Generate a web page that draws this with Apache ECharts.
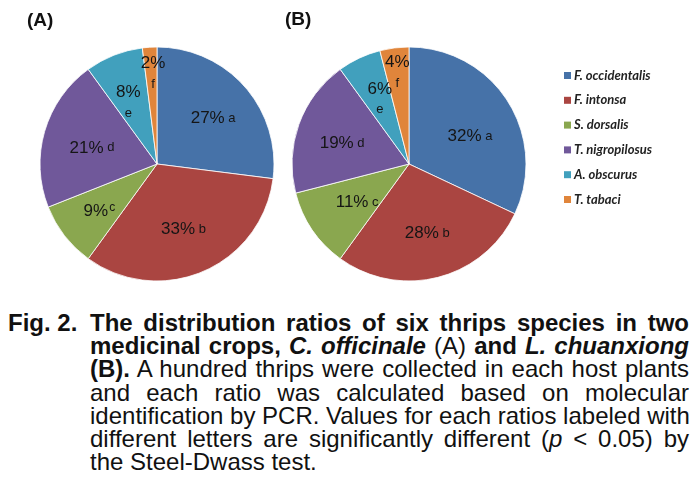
<!DOCTYPE html>
<html>
<head>
<meta charset="utf-8">
<script src="https://cdn.jsdelivr.net/npm/echarts@6/dist/echarts.min.js"></script>
<style>
  html, body { margin: 0; padding: 0; background: #fff; }
  #pieChart { position: absolute; left: 0; top: 0; width: 697px; height: 300px; }
  #caption {
    position: absolute; left: 8px; top: 311px; width: 681px;
    font-family: "Liberation Sans", Arial, sans-serif;
    font-size: 24px; line-height: 23.2px; color: #111;
  }
  #caption .ln { text-align: justify; text-align-last: justify; padding-left: 82px; white-space: nowrap; }
  #caption .first { padding-left: 0; display: flex; }
  #caption .lbl { width: 82px; flex: none; text-align: left; text-align-last: left; }
  #caption .rest { flex: 1; text-align: justify; text-align-last: justify; }
  #caption .last { text-align: left; text-align-last: left; }
</style>
</head>
<body>
<div id="pieChart"></div>
<div id="caption">
  <div class="ln first"><b class="lbl">Fig. 2.</b><b class="rest">The distribution ratios of six thrips species in two</b></div>
  <div class="ln"><b>medicinal crops, <i>C. officinale</i></b> (A) <b>and <i>L. chuanxiong</i></b></div>
  <div class="ln"><b>(B).</b> A hundred thrips were collected in each host plants</div>
  <div class="ln">and each ratio was calculated based on molecular</div>
  <div class="ln">identification by PCR. Values for each ratios labeled with</div>
  <div class="ln">different letters are significantly different (<i>p</i> &lt; 0.05) by</div>
  <div class="ln last">the Steel-Dwass test.</div>
</div>
<script>
// 物种与数据
const species = ["F. occidentalis", "F. intonsa", "S. dorsalis", "T. nigropilosus", "A. obscurus", "T. tabaci"];
const ratiosA = [27, 33, 9, 21, 8, 2];
const ratiosB = [32, 28, 11, 19, 6, 4];
const lettersA = ["a", "b", "c", "d", "e", "f"];
const lettersB = ["a", "b", "c", "d", "e", "f"];

const colors = ["#4672A8", "#AA4541", "#8AA74F", "#70589A", "#41A0BD", "#E0853B"];

// label tweaks (styling only)
const offsetsA = [[10, -5], [2, 9], [-9, 10], [-6, 1], [-6, -4], [0, -29]];
const offsetsB = [[9, 5], [3, 10], [-1, 4], [-9, 0], [-3, -9], [-4, -30]];
const stackedA = [false, false, false, false, true, true];
const stackedB = [false, false, false, false, true, true];
const superA = [false, false, true, false, false, false];

function buildData(values, letters, offsets, stacked, sup) {
  return values.map((v, i) => ({
    name: species[i],
    value: v,
    label: {
      offset: offsets[i],
      formatter: stacked[i]
        ? "{p|" + v + "%}\n{l|" + letters[i] + "}"
        : sup && sup[i]
        ? "{p|" + v + "%}{s|" + letters[i] + "}"
        : "{p|" + v + "%}{l| " + letters[i] + "}",
    },
  }));
}

const richLabel = {
  p: { fontSize: 17, color: "#151515", fontFamily: "Liberation Sans", lineHeight: 21 },
  l: { fontSize: 13, color: "#151515", fontFamily: "Liberation Sans", lineHeight: 21 },
  s: { fontSize: 12, color: "#151515", fontFamily: "Liberation Sans", verticalAlign: "top", padding: [0, 0, 8, 1] },
};

function pieSeries(name, center, data) {
  return {
    name: name,
    type: "pie",
    center: center,
    radius: 117,
    startAngle: 90,
    clockwise: true,
    animation: false,
    avoidLabelOverlap: false,
    itemStyle: { borderColor: "#ffffff", borderWidth: 0.8 },
    label: { show: true, position: "inside", rich: richLabel },
    labelLine: { show: false },
    labelLayout: { hideOverlap: false },
    emphasis: { disabled: true },
    data: data,
  };
}

const pieChart = echarts.init(document.getElementById("pieChart"));
const option = {
  color: colors,
  graphic: [
    { type: "text", left: 27, top: 11, style: { text: "(A)", font: "bold 19px 'Liberation Sans'", fill: "#111" } },
    { type: "text", left: 285, top: 10, style: { text: "(B)", font: "bold 19px 'Liberation Sans'", fill: "#111" } },
  ],
  legend: {
    orient: "vertical",
    left: 559,
    top: 64,
    icon: "rect",
    itemWidth: 7,
    itemHeight: 7,
    itemGap: 11.8,
    itemStyle: { borderWidth: 0 },
    selectedMode: false,
    textStyle: { fontSize: 13, fontWeight: "bold", fontStyle: "italic", fontFamily: "Lato", color: "#222", padding: [0, 0, 0, -2] },
    data: species,
  },
  series: [
    pieSeries("A", [157, 164], buildData(ratiosA, lettersA, offsetsA, stackedA, superA)),
    pieSeries("B", [409, 164], buildData(ratiosB, lettersB, offsetsB, stackedB, null)),
  ],
};
pieChart.setOption(option);
window.addEventListener("resize", () => pieChart.resize(), true);
</script>
</body>
</html>
